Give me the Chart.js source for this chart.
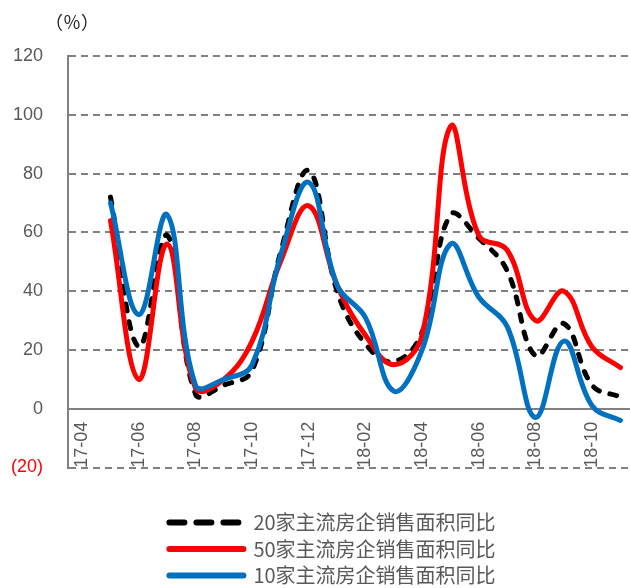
<!DOCTYPE html>
<html>
<head>
<meta charset="utf-8">
<script src="https://cdn.jsdelivr.net/npm/chart.js@4.4.1/dist/chart.umd.min.js"></script>
<style>
  html, body { margin: 0; padding: 0; background: #ffffff; overflow: hidden; width: 630px; height: 588px; }
  /* the plot runs on slightly past the right edge of the page */
  #wrap { position: relative; width: 655px; height: 588px; }
</style>
</head>
<body>
<div id="wrap"><canvas id="c"></canvas></div>
<script>
// Monthly categories (17-04 has no reading)
const months = ['17-04','17-05','17-06','17-07','17-08','17-09','17-10','17-11','17-12','18-01',
                '18-02','18-03','18-04','18-05','18-06','18-07','18-08','18-09','18-10','18-11'];

// Year-on-year change of sales floor area, %
const top20 = [null, 72, 21, 59, 5, 8, 13, 53, 81, 40, 22, 16, 26, 66, 58, 47, 18, 29, 8, 4];
const top50 = [null, 64, 10, 56, 7, 10, 23, 50, 69, 42, 25, 15, 25, 96, 59, 54, 30, 40, 21, 14];
const top10 = [null, 70, 32, 66, 8, 10, 15, 52, 77, 42, 31, 6, 20, 56, 38, 28, -3, 23, 1, -4];

const seriesNames = ['20家主流房企销售面积同比', '50家主流房企销售面积同比', '10家主流房企销售面积同比'];

// y-axis range and step
const yMin = -20, yMax = 120, yStep = 20;

const GRAY = '#808080';
const TEXT = '#595959';

const unitLabel = {
  id: 'unitLabel',
  afterDraw(chart) {
    const ctx = chart.ctx;
    ctx.save();
    ctx.font = '18px "Noto Sans CJK SC"';
    ctx.fillStyle = '#262626';
    ctx.textBaseline = 'middle';
    ctx.textAlign = 'left';
    ctx.fillText('（％）', 45, 22);
    ctx.restore();
  }
};

new Chart(document.getElementById('c'), {
  type: 'line',
  data: {
    labels: months,
    datasets: [
      { label: seriesNames[0], data: top20, borderColor: '#000000', backgroundColor: '#000000',
        borderWidth: 5, borderDash: [7, 11], borderCapStyle: 'round', order: 3 },
      { label: seriesNames[1], data: top50, borderColor: '#FF0000', backgroundColor: '#FF0000',
        borderWidth: 5, borderCapStyle: 'round', order: 2 },
      { label: seriesNames[2], data: top10, borderColor: '#0070C0', backgroundColor: '#0070C0',
        borderWidth: 5, borderCapStyle: 'round', order: 1 }
    ]
  },
  options: {
    responsive: true,
    maintainAspectRatio: false,
    animation: false,
    layout: { padding: { left: 10, right: 0, top: 56, bottom: -7.5 } },
    elements: {
      line: { tension: 0.4, fill: false },
      point: { radius: 0, hoverRadius: 0 }
    },
    scales: {
      x: {
        type: 'category',
        position: { y: 0 },
        offset: true,
        grid: { display: false, drawTicks: false },
        border: { display: true, color: GRAY, width: 2 },
        ticks: {
          autoSkip: false,
          maxRotation: 90,
          minRotation: 90,
          padding: 13,
          color: TEXT,
          font: { family: '"Liberation Sans"', size: 18 },
          callback: (v, i) => (i % 2 === 0 ? months[i] : '')
        }
      },
      y: {
        min: yMin,
        max: yMax,
        afterFit: (scale) => { scale.width = 58; },
        grid: { color: GRAY, lineWidth: 2, drawTicks: false },
        border: {
          display: true, color: GRAY, width: 2,
          dash: (ctx) => (ctx.tick && ctx.tick.value === 0 ? [] : [7, 5])
        },
        ticks: {
          stepSize: yStep,
          padding: 25,
          color: (ctx) => (ctx.tick && ctx.tick.value < 0 ? '#FF0000' : TEXT),
          font: { family: '"Liberation Sans"', size: 18 },
          callback: (v) => (v < 0 ? '(' + Math.abs(v) + ')' : String(v))
        }
      }
    },
    plugins: {
      tooltip: { enabled: false },
      legend: {
        position: 'bottom',
        title: { display: true, text: '', font: { size: 10, lineHeight: 1 }, padding: { top: 28.5, bottom: 0 } },
        labels: {
          usePointStyle: true,
          pointStyle: 'line',
          pointStyleWidth: 74,
          boxHeight: 20,
          padding: 6.5,
          color: TEXT,
          font: { family: '"Noto Sans CJK SC"', size: 20 },
          sort: (a, b) => a.datasetIndex - b.datasetIndex,
          generateLabels: (chart) => {
            const items = Chart.defaults.plugins.legend.labels.generateLabels(chart);
            items.forEach((it) => {
              it.lineWidth = 6;
              it.lineCap = 'round';
              it.lineDash = it.datasetIndex === 0 ? [15, 12] : [];
            });
            return items;
          }
        }
      }
    }
  },
  plugins: [unitLabel]
});
</script>
</body>
</html>
